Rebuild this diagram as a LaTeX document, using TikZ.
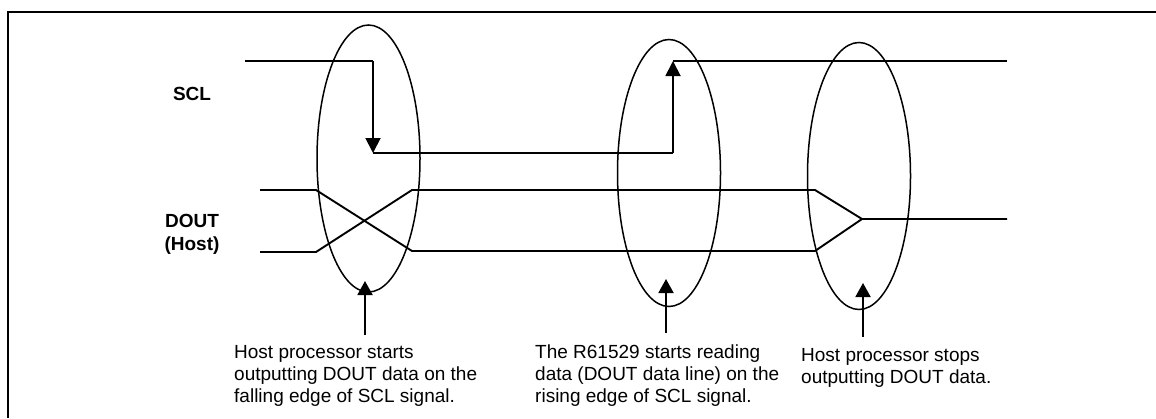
\documentclass[tikz,border=0pt]{standalone}
\usepackage{fontspec}
\setmainfont{Liberation Sans}
\usetikzlibrary{shapes.geometric,arrows.meta}
\tikzset{
  wave/.style={line width=1.9pt, line join=miter},
  edgearrow/.style={line width=1.9pt, -{Triangle[width=15pt,length=15pt]}},
  pointer/.style={line width=1.9pt, -{Triangle[width=15pt,length=14pt]}},
  ring/.style={ellipse, draw, line width=1.5pt, inner sep=0pt, minimum width=103pt, minimum height=267pt},
  sig/.style={font=\fontsize{19}{23}\selectfont\bfseries, align=center, inner sep=0pt},
  note/.style={font=\fontsize{19}{22}\selectfont, align=left, anchor=north west, inner sep=0pt}
}
\begin{document}
\begin{tikzpicture}[x=1pt,y=-1pt]
\useasboundingbox (0,0) rectangle (1156,418);
% frame
\draw[line width=2.4pt] (8,418) -- (8,12) -- (1156,12);
% labels
\node[sig] (scl) at (192,94) {SCL};
\node[sig] (dout) at (192,234) {DOUT\\(Host)};
% SCL waveform
\coordinate (s1) at (245,61);
\coordinate (s2) at (373,61);
\coordinate (s3) at (373,153);
\coordinate (s4) at (673,153);
\coordinate (s5) at (673,61);
\coordinate (s6) at (1007,61);
\draw[edgearrow] (s2) -- (s3);
\draw[wave] (s1) -- (s2);
\draw[wave] (s3) -- (s4);
\draw[edgearrow] (s4) -- (s5);
\draw[wave] (s5) -- (s6);
% DOUT waveform
\coordinate (d1) at (260,190);
\coordinate (d2) at (316,190);
\coordinate (d3) at (412,251);
\coordinate (d4) at (815,251);
\coordinate (e1) at (260,252);
\coordinate (e2) at (316,252);
\coordinate (e3) at (412,190);
\coordinate (e4) at (815,190);
\coordinate (m) at (862,219);
\coordinate (m2) at (1007,219);
\draw[wave] (d1) -- (d2) -- (d3) -- (d4) -- (m);
\draw[wave] (e1) -- (e2) -- (e3) -- (e4) -- (m) -- (m2);
% ellipses
\node[ring] (r1) at (368.5,158.5) {};
\node[ring] (r2) at (669,173) {};
\node[ring] (r3) at (859,176) {};
% notes
\node[note] (n1) at (234,345) {Host processor starts\\outputting DOUT data on the\\falling edge of SCL signal.};
\node[note] (n2) at (535,345) {The R61529 starts reading\\data (DOUT data line) on the\\rising edge of SCL signal.};
\node[note] (n3) at (801,348) {Host processor stops\\outputting DOUT data.};
% pointers
\coordinate (p1) at (365,335);
\coordinate (p2) at (666,333);
\coordinate (p3) at (863,337);
\draw[pointer] (p1) -- (365,281);
\draw[pointer] (p2) -- (666,279);
\draw[pointer] (p3) -- (863,283);
\end{tikzpicture}
\end{document}
